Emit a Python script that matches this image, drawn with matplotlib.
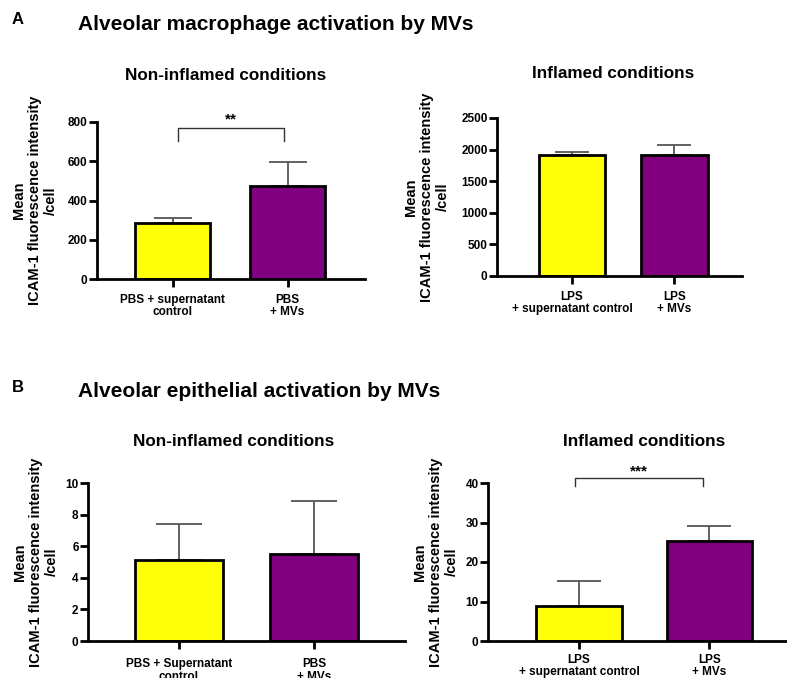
import matplotlib
matplotlib.use('Agg')
import matplotlib.pyplot as plt

plt.rcParams['font.family'] = ['Liberation Sans', 'DejaVu Sans']
plt.rcParams['font.weight'] = 'bold'
plt.rcParams['axes.labelweight'] = 'bold'

# ---------------- data ----------------
a_non_labels = ['PBS + supernatant\ncontrol', 'PBS\n+ MVs']
a_non_means = [285, 472]
a_non_err = [24, 122]

a_inf_labels = ['LPS\n+ supernatant control', 'LPS\n+ MVs']
a_inf_means = [1912, 1915]
a_inf_err = [52, 155]

b_non_labels = ['PBS + Supernatant\ncontrol', 'PBS\n+ MVs']
b_non_means = [5.15, 5.48]
b_non_err = [2.27, 3.38]

b_inf_labels = ['LPS\n+ supernatant control', 'LPS\n+ MVs']
b_inf_means = [8.8, 25.2]
b_inf_err = [6.4, 3.8]

a_non_ticks = [0, 200, 400, 600, 800]
a_inf_ticks = [0, 500, 1000, 1500, 2000, 2500]
b_non_ticks = [0, 2, 4, 6, 8, 10]
b_inf_ticks = [0, 10, 20, 30, 40]

ylabel_text = 'Mean\nICAM-1 fluorescence intensity\n/cell'
colors = ['#FFFF0A', '#800080']

W, H = 787, 678
fig = plt.figure(figsize=(W / 100, H / 100), dpi=100)


def px_axes(x0, x1, ytop, ybot):
    return fig.add_axes([x0 / W, 1 - ybot / H, (x1 - x0) / W, (ybot - ytop) / H])


panels = [
    # (axes px, labels, means, err, ticks, xlim, capsize, label_x, xpad, linespacing)
    ((97, 365, 122, 279), a_non_labels, a_non_means, a_non_err, a_non_ticks, (-0.657, 1.674), 13.5, -0.145, 4.5, 1.1),
    ((497, 742, 118, 276), a_inf_labels, a_inf_means, a_inf_err, a_inf_ticks, (-0.732, 1.659), 12.0, -0.192, 4.5, 1.1),
    ((88, 405, 483, 641), b_non_labels, b_non_means, b_non_err, b_non_ticks, (-0.674, 1.674), 16.5, -0.0915, 6.5, 1.1),
    ((488, 787, 483, 641), b_inf_labels, b_inf_means, b_inf_err, b_inf_ticks, (-0.697, 1.594), 16.0, -0.097, 3.5, 0.98),
]

axes = []
for (box, labels, means, err, ticks, xlim, cap, lx, xpad, ls) in panels:
    ax = px_axes(*box)
    axes.append(ax)
    x = [0, 1]
    ax.errorbar(x, means, yerr=[[0, 0], err], fmt='none', ecolor='#555555',
                elinewidth=1.3, capsize=cap, capthick=1.3, zorder=1)
    ax.bar(x, means, width=0.652, color=colors, edgecolor='black', linewidth=2, zorder=2)
    ax.set_xlim(*xlim)
    ax.set_ylim(ticks[0], ticks[-1])
    ax.set_yticks(ticks)
    ax.set_xticks(x)
    ax.set_xticklabels(labels, fontsize=8.5, fontweight='bold', linespacing=ls)
    for t in ax.get_yticklabels():
        t.set_fontsize(8.5)
        t.set_fontweight('bold')
    for s in ['top', 'right']:
        ax.spines[s].set_visible(False)
    for s in ['left', 'bottom']:
        ax.spines[s].set_linewidth(2)
    ax.tick_params(axis='y', width=2, length=5.8, pad=1, color='black')
    ax.tick_params(axis='x', width=2, length=6, pad=xpad, color='black')
    ax.set_ylabel(ylabel_text, fontsize=10.5, fontweight='bold', linespacing=1.2)
    ax.yaxis.set_label_coords(lx, 0.5)

# significance brackets
ax = axes[0]
ax.plot([0.048, 0.048, 0.97, 0.97], [703, 769, 769, 703], color='#333333', lw=1, clip_on=False)
ax.text(0.51, 775, '**', ha='center', va='bottom', fontsize=11, fontweight='bold', clip_on=False)

ax = axes[3]
ax.plot([-0.03, -0.03, 0.95, 0.95], [39.2, 41.3, 41.3, 39.2], color='#333333', lw=1, clip_on=False)
ax.text(0.46, 41.2, '***', ha='center', va='bottom', fontsize=11, fontweight='bold', clip_on=False)

# titles
fig.text(12 / W, 1 - 19 / H, 'A', ha='left', va='center', fontsize=12, fontweight='bold')
fig.text(78 / W, 1 - 30 / H, 'Alveolar macrophage activation by MVs', ha='left', va='baseline',
         fontsize=15, fontweight='bold')
fig.text(12 / W, 1 - 388 / H, 'B', ha='left', va='center', fontsize=12, fontweight='bold')
fig.text(78 / W, 1 - 397 / H, 'Alveolar epithelial activation by MVs', ha='left', va='baseline',
         fontsize=15, fontweight='bold')

fig.text(226 / W, 1 - 75 / H, 'Non-inflamed conditions', ha='center', va='center', fontsize=12.3, fontweight='bold')
fig.text(613 / W, 1 - 73 / H, 'Inflamed conditions', ha='center', va='center', fontsize=12.3, fontweight='bold')
fig.text(234 / W, 1 - 441 / H, 'Non-inflamed conditions', ha='center', va='center', fontsize=12.3, fontweight='bold')
fig.text(644 / W, 1 - 441 / H, 'Inflamed conditions', ha='center', va='center', fontsize=12.3, fontweight='bold')

fig.savefig('out.png', dpi=100)
